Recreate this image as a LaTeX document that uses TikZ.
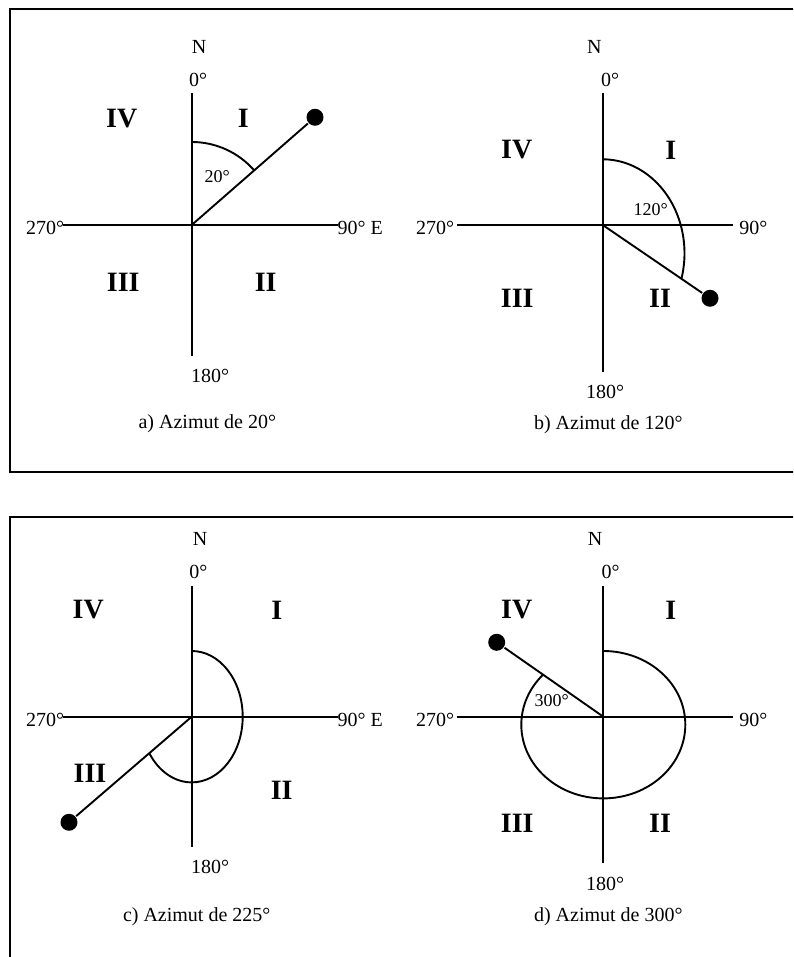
\documentclass[tikz,border=0pt]{standalone}
\usepackage{fontspec}
\setmainfont{Liberation Serif}
\begin{document}
\begin{tikzpicture}[x=1pt,y=1pt, line width=1.9pt,
  lbl/.style={inner sep=0pt, font=\fontsize{20}{24}\selectfont},
  quad/.style={inner sep=0pt, font=\fontsize{28}{32}\selectfont\bfseries},
  ang/.style={inner sep=0pt, font=\fontsize{18}{21}\selectfont},
  dot/.style={circle, fill=black, inner sep=0pt, minimum size=17pt},
  frame/.style={line width=2pt}]
\useasboundingbox (0,0) rectangle (793,957);
\clip (0,0) rectangle (793,957);
\draw[frame] (9.5,485.3) rectangle (820,947.5);
\draw[frame] (10,-20) rectangle (820,439.7);

% ---------- a)
\begin{scope}[shift={(191.7,732)}]
\coordinate (aO) at (0,0);
\coordinate (aN) at (0,131.7); \coordinate (aS) at (0,-130.7);
\coordinate (aW) at (-128.4,0); \coordinate (aE) at (146.6,0);
\draw (aN) -- (aS);
\draw (aW) -- (aE);
\draw (0,83) arc[start angle=90, end angle=41.1, radius=83];
\node[dot] (aP) at (123.3,107.7) {};
\draw (aO) -- (aP);
\node[lbl] (aNl) at (7.3,177.7) {N};
\node[lbl] (a0) at (6.3,145) {0°};
\node[lbl] (a270) at (-146.7,-3.3) {270°};
\node[lbl,anchor=west] (a90) at (145,-3.3) {90° E};
\node[lbl] (a180) at (18.3,-151) {180°};
\node[lbl] (acap) at (15.6,-199) {a) Azimut de 20°};
\node[quad] (aIV) at (-70,106.7) {IV};
\node[quad] (aI) at (51.6,106.7) {I};
\node[quad] (aIII) at (-68.4,-57.7) {III};
\node[quad] (aII) at (74,-57.7) {II};
\node[ang] (aang) at (25.6,48.3) {20°};
\end{scope}

% ---------- b)
\begin{scope}[shift={(602.7,732)}]
\coordinate (bO) at (0,0);
\coordinate (bN) at (0,131.7); \coordinate (bS) at (0,-147.3);
\coordinate (bW) at (-146,0); \coordinate (bE) at (130.6,0);
\draw (bN) -- (bS);
\draw (bW) -- (bE);
\draw (0,65.7) arc[start angle=90, end angle=-15.7, x radius=81.8, y radius=94];
\node[dot] (bP) at (107.3,-73.3) {};
\draw (bO) -- (bP);
\node[lbl] (bNl) at (-8.4,177.7) {N};
\node[lbl] (b0) at (7.3,145) {0°};
\node[lbl] (b270) at (-167.7,-3) {270°};
\node[lbl] (b90) at (150.6,-3) {90°};
\node[lbl] (b180) at (2.3,-166.7) {180°};
\node[lbl] (bcap) at (5.6,-200) {b) Azimut de 120°};
\node[quad] (bIV) at (-86,75) {IV};
\node[quad] (bI) at (68,75) {I};
\node[quad] (bIII) at (-85.4,-73.3) {III};
\node[quad] (bII) at (57.3,-73.3) {II};
\node[ang] (bang) at (48,15) {120°};
\end{scope}

% ---------- c)
\begin{scope}[shift={(191.7,240.3)}]
\coordinate (cO) at (0,0);
\coordinate (cN) at (0,130.7); \coordinate (cS) at (0,-130);
\coordinate (cW) at (-128.4,0); \coordinate (cE) at (146.6,0);
\draw (cN) -- (cS);
\draw (cW) -- (cE);
\draw (0,65.7) arc[start angle=90, end angle=-146.3, x radius=51, y radius=65.7];
\node[dot] (cP) at (-122.7,-105.6) {};
\draw (cO) -- (cP);
\node[lbl] (cNl) at (8.3,177.7) {N};
\node[lbl] (c0) at (6.6,145) {0°};
\node[lbl] (c270) at (-146.7,-3.3) {270°};
\node[lbl,anchor=west] (c90) at (145,-3.3) {90° E};
\node[lbl] (c180) at (18.3,-150) {180°};
\node[lbl] (ccap) at (5,-200) {c) Azimut de 225°};
\node[quad] (cIV) at (-103.4,106.7) {IV};
\node[quad] (cI) at (85,106.7) {I};
\node[quad] (cIII) at (-101.7,-56.6) {III};
\node[quad] (cII) at (90,-73.3) {II};
\end{scope}

% ---------- d)
\begin{scope}[shift={(603.3,240.3)}]
\coordinate (dO) at (0,0);
\coordinate (dN) at (0,130.7); \coordinate (dS) at (0,-146.6);
\coordinate (dW) at (-146.6,0); \coordinate (dE) at (130,0);
\draw (dN) -- (dS);
\draw (dW) -- (dE);
\draw (0,65.7) arc[start angle=90, end angle=-222.8, x radius=82, y radius=73.7];
\node[dot] (dP) at (-106.6,74.4) {};
\draw (dO) -- (dP);
\node[lbl] (dNl) at (-8.3,177.7) {N};
\node[lbl] (d0) at (7.4,145) {0°};
\node[lbl] (d270) at (-168.3,-3.3) {270°};
\node[lbl] (d90) at (150,-3.3) {90°};
\node[lbl] (d180) at (1.7,-167.6) {180°};
\node[lbl] (dcap) at (5,-200) {d) Azimut de 300°};
\node[quad] (dIV) at (-86.6,106.7) {IV};
\node[quad] (dI) at (67.4,106.7) {I};
\node[quad] (dIII) at (-86,-106.6) {III};
\node[quad] (dII) at (56.7,-106.6) {II};
\node[ang] (dang) at (-51.6,16) {300°};
\end{scope}
\end{tikzpicture}
\end{document}
